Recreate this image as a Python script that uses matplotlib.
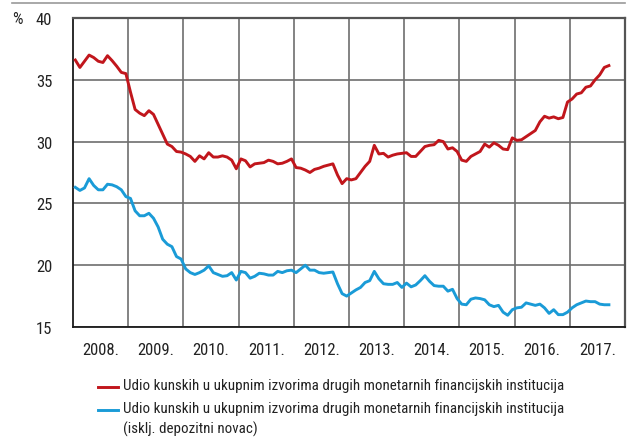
import numpy as np
import matplotlib
matplotlib.use("Agg")
import matplotlib.pyplot as plt
from matplotlib.lines import Line2D

# Monthly series, January 2008 - September 2017 (per cent)
start_year = 2008
kuna_share = [
    36.6, 36.0, 36.5, 37.0, 36.8, 36.5, 36.4, 36.95, 36.55, 36.1, 35.6, 35.5,
    34.0, 32.6, 32.3, 32.1, 32.5, 32.2, 31.4, 30.6, 29.8, 29.6, 29.2, 29.15,
    29.0, 28.8, 28.4, 28.85, 28.6, 29.1, 28.75, 28.75, 28.85, 28.75, 28.5, 27.8,
    28.6, 28.45, 27.95, 28.2, 28.25, 28.3, 28.5, 28.4, 28.2, 28.25, 28.4, 28.6,
    27.9, 27.85, 27.7, 27.5, 27.75, 27.85, 28.0, 28.1, 28.2, 27.3, 26.6, 27.0,
    26.9, 27.0, 27.5, 28.0, 28.4, 29.7, 29.0, 29.05, 28.75, 28.9, 29.0, 29.05,
    29.1, 28.8, 28.8, 29.2, 29.6, 29.7, 29.75, 30.1, 30.0, 29.4, 29.5, 29.2,
    28.5, 28.4, 28.8, 29.0, 29.2, 29.8, 29.55, 29.9, 29.7, 29.4, 29.35, 30.3,
    30.1, 30.15, 30.4, 30.65, 30.9, 31.6, 32.05, 31.9, 32.0, 31.85, 31.95, 33.2,
    33.45, 33.85, 33.95, 34.4, 34.5, 35.0, 35.4, 36.0, 36.15,
]
kuna_share_excl = [
    26.3, 26.05, 26.25, 27.0, 26.45, 26.1, 26.1, 26.55, 26.5, 26.35, 26.1, 25.55,
    25.4, 24.4, 24.0, 24.0, 24.2, 23.8, 23.1, 22.1, 21.7, 21.5, 20.7, 20.5,
    19.7, 19.4, 19.25, 19.4, 19.6, 19.95, 19.4, 19.25, 19.1, 19.15, 19.4, 18.8,
    19.5, 19.4, 18.95, 19.1, 19.35, 19.3, 19.2, 19.2, 19.5, 19.4, 19.55, 19.6,
    19.4, 19.7, 20.0, 19.6, 19.6, 19.4, 19.35, 19.4, 19.45, 18.5, 17.7, 17.5,
    17.75, 18.0, 18.2, 18.6, 18.75, 19.5, 18.9, 18.5, 18.45, 18.45, 18.6, 18.2,
    18.55, 18.25, 18.4, 18.75, 19.15, 18.7, 18.35, 18.3, 18.3, 17.9, 18.05, 17.3,
    16.85, 16.8, 17.25, 17.35, 17.3, 17.2, 16.8, 16.65, 16.75, 16.2, 15.95, 16.4,
    16.55, 16.6, 16.95, 16.85, 16.75, 16.85, 16.55, 16.1, 16.4, 16.0, 16.0, 16.2,
    16.55, 16.8, 16.95, 17.1, 17.05, 17.05, 16.85, 16.8, 16.8,
]
years = list(range(2008, 2018))
year_labels = [f"{y}." for y in years]
y_ticks = [15, 20, 25, 30, 35, 40]
legend_labels = [
    "Udio kunskih u ukupnim izvorima drugih monetarnih financijskih institucija",
    "Udio kunskih u ukupnim izvorima drugih monetarnih financijskih institucija\n(isklj. depozitni novac)",
]

RED = "#c1161c"
BLUE = "#1a9bd7"
FONT = ["Roboto Condensed", "Archivo Narrow", "DejaVu Sans"]
plt.rcParams["font.family"] = FONT
FS = 12
FS_LEG = 10.8

W, H = 638, 439
fig = plt.figure(figsize=(W / 100, H / 100), dpi=100)
ax = fig.add_axes([73 / W, 1 - 328 / H, (625 - 73) / W, (328 - 19) / H])

x = start_year + (np.arange(len(kuna_share)) + 0.5) / 12
ax.plot(x, kuna_share, color=RED, lw=2.1, solid_joinstyle="round", zorder=3)
ax.plot(x, kuna_share_excl, color=BLUE, lw=2.1, solid_joinstyle="round", zorder=3)

ax.set_xlim(years[0], years[-1] + 1)
ax.set_ylim(y_ticks[0], y_ticks[-1])

# year boundaries as gridlines, year names centred in each interval
ax.set_xticks(years[1:])
ax.set_xticklabels([])
ax.set_xticks(np.array(years) + 0.5, minor=True)
ax.set_xticklabels(year_labels, minor=True)
ax.set_yticks(y_ticks)
ax.set_yticklabels([str(v) for v in y_ticks])
ax.tick_params(axis="both", which="both", length=0, labelsize=FS, colors="#222222")
ax.tick_params(axis="x", which="minor", pad=11)
ax.tick_params(axis="y", pad=15)

ax.grid(True, which="major", color="#6e6e6e", lw=1.2)
ax.set_axisbelow(True)

for side in ("left", "bottom"):
    ax.spines[side].set_color("#1a1a1a")
    ax.spines[side].set_linewidth(1.3)
for side in ("top", "right"):
    ax.spines[side].set_color("#555555")
    ax.spines[side].set_linewidth(1.6)

# unit label and the rule above the chart
fig.text(12 / W, 1 - 19 / H, "%", ha="left", va="center", fontsize=FS, color="#222222")
fig.add_artist(Line2D([12 / W, 625 / W], [1 - 4 / H, 1 - 4 / H], color="#9a9a9a", lw=1.2))

# legend
for lab, col, yy in zip(legend_labels, [RED, BLUE], [388, 410.5]):
    fig.add_artist(Line2D([98 / W, 118 / W], [1 - yy / H, 1 - yy / H], color=col, lw=2.1))
    fig.text(123 / W, 1 - (yy - 8.5) / H, lab, ha="left", va="top", fontsize=FS_LEG,
             color="#222222", linespacing=1.45)

fig.savefig("out.png", dpi=100)
